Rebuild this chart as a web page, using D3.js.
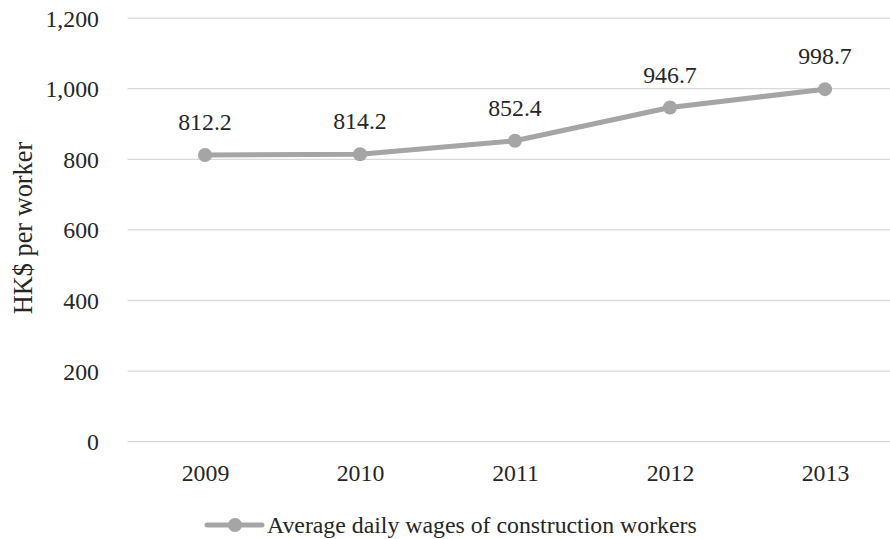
<!DOCTYPE html>
<html>
<head>
<meta charset="utf-8">
<script src="https://cdn.jsdelivr.net/npm/d3@7/dist/d3.min.js"></script>
<style>
  html, body { margin: 0; padding: 0; background: #fff; }
  svg text { font-family: "Liberation Serif", "Times New Roman", serif !important; }
</style>
</head>
<body>
<svg id="chart" width="890" height="539"></svg>
<script>
// Average daily wages of construction workers, HK$ per worker
const years = ["2009", "2010", "2011", "2012", "2013"];
const wages = [812.2, 814.2, 852.4, 946.7, 998.7];
const yTicks = [0, 200, 400, 600, 800, 1000, 1200];
const seriesName = "Average daily wages of construction workers";
const yTitle = "HK$ per worker";

const W = 890, H = 539;
const plot = { left: 127.5, right: 902.5, top: 18.1, bottom: 441.7 };
const lineColor = "#a5a5a5";
const gridColor = "#d9d9d9";
const textColor = "#262626";
const fontSize = 23.8;
const titleSize = 26.3;

const svg = d3.select("#chart");

const x = d3.scalePoint().domain(years).range([plot.left, plot.right]).padding(0.5);
const y = d3.scaleLinear().domain([0, 1200]).range([plot.bottom, plot.top]);
const fmt = d3.format(",");

// horizontal gridlines
svg.append("g")
  .selectAll("line")
  .data(yTicks)
  .join("line")
  .attr("x1", plot.left)
  .attr("x2", W)
  .attr("y1", d => y(d))
  .attr("y2", d => y(d))
  .attr("stroke", gridColor)
  .attr("stroke-width", 1.3);

// y axis tick labels
const yAxis = svg.append("g")
  .attr("transform", `translate(99,0)`)
  .call(d3.axisLeft(y).tickValues(yTicks).tickFormat(fmt).tickSize(0).tickPadding(0));
yAxis.select(".domain").remove();
yAxis.selectAll("text")
  .style("font-size", fontSize + "px")
  .attr("fill", textColor)
  .attr("dy", "0.34em");

// x axis category labels
const xAxis = svg.append("g")
  .attr("transform", `translate(0,${plot.bottom})`)
  .call(d3.axisBottom(x).tickSize(0).tickPadding(0));
xAxis.select(".domain").remove();
xAxis.selectAll("text")
  .style("font-size", fontSize + "px")
  .attr("fill", textColor)
  .attr("y", 39.5)
  .attr("dy", 0);

// y axis title
svg.append("text")
  .attr("transform", `translate(32,228) rotate(-90)`)
  .attr("text-anchor", "middle")
  .style("font-size", titleSize + "px")
  .attr("fill", textColor)
  .text(yTitle);

// series line
const pts = years.map((yr, i) => ({ yr, v: wages[i] }));
svg.append("path")
  .datum(pts)
  .attr("fill", "none")
  .attr("stroke", lineColor)
  .attr("stroke-width", 5)
  .attr("stroke-linejoin", "round")
  .attr("d", d3.line().x(d => x(d.yr)).y(d => y(d.v)));

// markers
svg.append("g")
  .selectAll("circle")
  .data(pts)
  .join("circle")
  .attr("cx", d => x(d.yr))
  .attr("cy", d => y(d.v))
  .attr("r", 7)
  .attr("fill", lineColor);

// value labels
svg.append("g")
  .selectAll("text")
  .data(pts)
  .join("text")
  .attr("x", d => x(d.yr))
  .attr("y", d => y(d.v) - 25)
  .attr("text-anchor", "middle")
  .style("font-size", fontSize + "px")
  .attr("fill", textColor)
  .text(d => d3.format(".1f")(d.v));

// legend
const leg = svg.append("g").attr("transform", "translate(207,525)");
leg.append("line")
  .attr("x1", 0).attr("x2", 55)
  .attr("y1", 0).attr("y2", 0)
  .attr("stroke", lineColor)
  .attr("stroke-width", 5)
  .attr("stroke-linecap", "round");
leg.append("circle")
  .attr("cx", 28).attr("cy", 0).attr("r", 7)
  .attr("fill", lineColor);
leg.append("text")
  .attr("x", 60)
  .attr("y", 8)
  .style("font-size", fontSize + "px")
  .attr("fill", textColor)
  .text(seriesName);
</script>
</body>
</html>
